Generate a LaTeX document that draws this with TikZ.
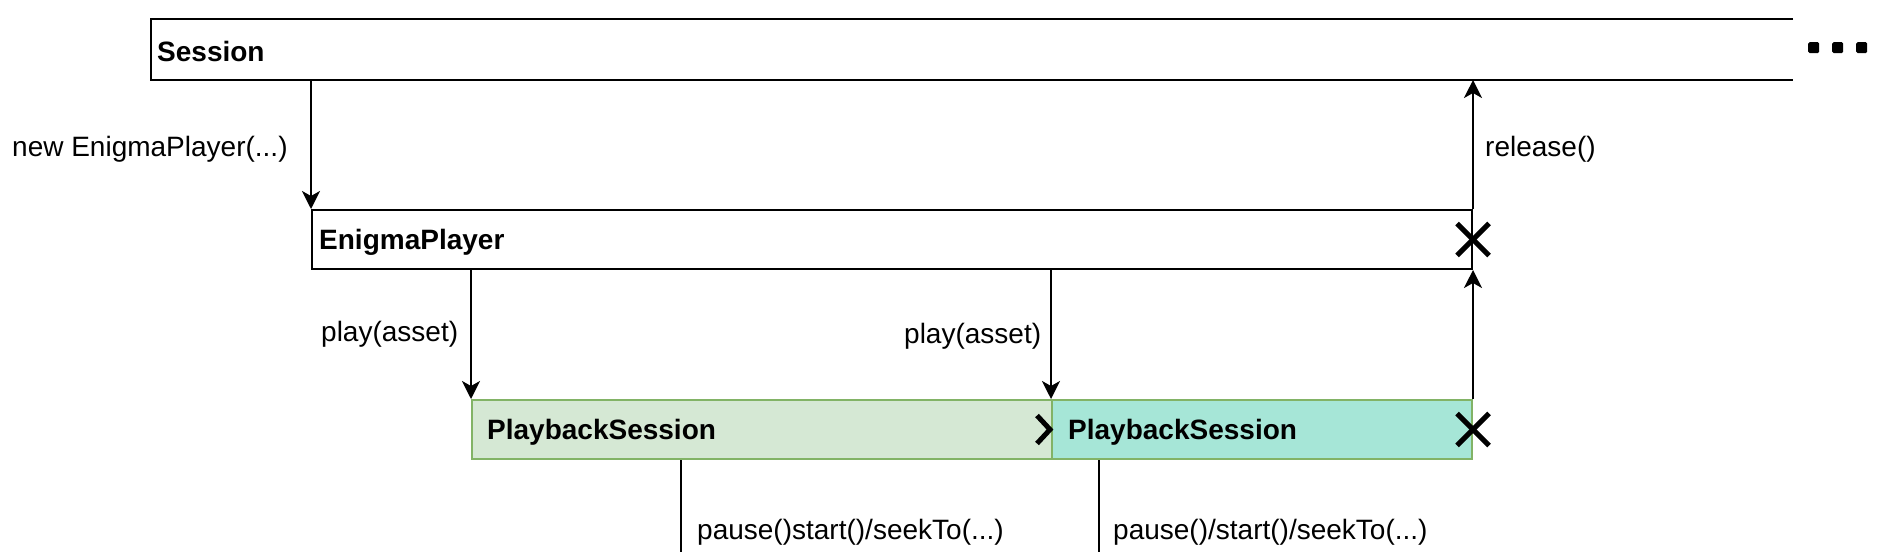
\documentclass[tikz,border=0pt]{standalone}
\usepackage{fontspec}
\setmainfont{Liberation Sans}
\usetikzlibrary{arrows.meta,calc}
\definecolor{psAfill}{HTML}{D5E8D4}
\definecolor{psAdraw}{HTML}{82B366}
\definecolor{psBfill}{HTML}{A6E6D7}
\tikzset{
  box/.style={rectangle, draw=black, line width=2pt, inner sep=0pt, anchor=north west, minimum height=59pt},
  psbox/.style={box, draw=psAdraw},
  title/.style={anchor=west, inner sep=0pt, font=\fontsize{28}{34}\selectfont\bfseries},
  lbl/.style={anchor=west, inner sep=0pt, font=\fontsize{28}{34}\selectfont},
  arr/.style={line width=2pt, -{Stealth[length=18pt,width=18pt,inset=5pt]}},
  life/.style={line width=2pt},
  endmark/.style={line width=5pt},
}
\begin{document}
\begin{tikzpicture}[x=1pt,y=-1pt]
\useasboundingbox (0,0) rectangle (1890,552);
% Session (open at the right)
\node[box, draw=none, minimum width=1640pt] (session) at (151,19) {};
\draw[line width=2pt] (session.north east) -- (session.north west) -- (session.south west) -- (session.south east);
\node[title] (sessiont) at (157,51) {Session};
\foreach \i/\xx in {1/1808,2/1832,3/1856}
  \node[fill=black, rounded corners=1.5pt, minimum size=11pt, inner sep=0pt, anchor=north west] (dot\i) at (\xx,42) {};
% EnigmaPlayer
\node[box, minimum width=1160pt] (ep) at (311,209) {};
\node[title] (ept) at (319,242) {EnigmaPlayer};
% PlaybackSessions
\node[psbox, fill=psAfill, minimum width=580pt] (psa) at (471,399) {};
\node[psbox, fill=psBfill, minimum width=420pt] (psb) at (1051,399) {};
\node[title] (psat) at (487,432) {PlaybackSession};
\node[title] (psbt) at (1068,432) {PlaybackSession};
% connectors
\draw[arr] (ep.north west |- session.south) -- (ep.north west);
\draw[arr] (ep.north east) -- (ep.north east |- session.south);
\draw[arr] (psa.north west |- ep.south) -- (psa.north west);
\draw[arr] (psb.north west |- ep.south) -- (psb.north west);
\draw[arr] (psb.north east) -- (ep.south east);
% lifelines
\coordinate (enda) at (681,552);
\coordinate (endb) at (1099,552);
\draw[life] (psa.south -| enda) -- (enda);
\draw[life] (psb.south -| endb) -- (endb);
% labels
\node[lbl] (newl) at (12,149.5) {new EnigmaPlayer(...)};
\node[lbl] (rell) at (1485,149.5) {release()};
\node[lbl] (playa) at (321,334) {play(asset)};
\node[lbl] (playb) at (904,336) {play(asset)};
\node[lbl] (pausea) at (697,532.5) {pause()start()/seekTo(...)};
\node[lbl] (pauseb) at (1113,532.5) {pause()/start()/seekTo(...)};
% end marks
\draw[endmark] ($(ep.east)+(-16,-16)$) -- ($(ep.east)+(16,16)$);
\draw[endmark] ($(ep.east)+(-16,16)$) -- ($(ep.east)+(16,-16)$);
\draw[endmark] ($(psb.east)+(-16,-16)$) -- ($(psb.east)+(16,16)$);
\draw[endmark] ($(psb.east)+(-16,16)$) -- ($(psb.east)+(16,-16)$);
\draw[endmark, line join=miter] ($(psa.east)+(-16,-14)$) -- ($(psa.east)+(-3,0)$) -- ($(psa.east)+(-16,14)$);
\end{tikzpicture}
\end{document}
